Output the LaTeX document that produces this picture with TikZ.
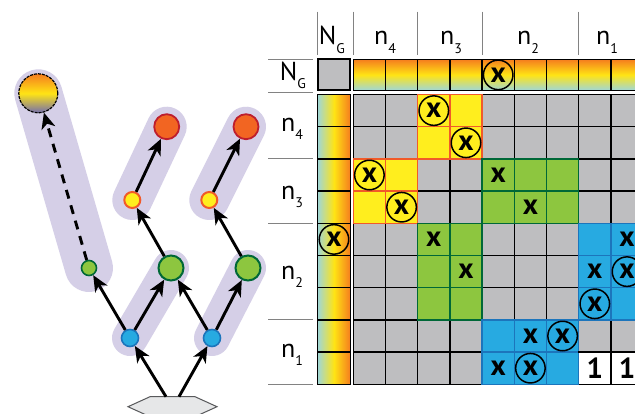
\documentclass[tikz,border=0pt]{standalone}
\usepackage{fontspec}
\setmainfont{PT Sans}
\usetikzlibrary{arrows.meta}
\definecolor{lav}{RGB}{213,207,231}
\definecolor{cellgray}{RGB}{190,190,192}
\definecolor{yel}{RGB}{255,238,30}
\definecolor{yelb}{RGB}{241,90,41}
\definecolor{grn}{RGB}{141,198,63}
\definecolor{grnb}{RGB}{0,104,55}
\definecolor{blu}{RGB}{39,170,225}
\definecolor{blub}{RGB}{28,117,188}
\definecolor{orng}{RGB}{242,101,34}
\definecolor{redb}{RGB}{190,30,45}
\definecolor{gorange}{RGB}{245,125,30}
\definecolor{gyellow}{RGB}{255,228,20}
\definecolor{gteal}{RGB}{160,215,215}
\definecolor{gpurple}{RGB}{115,110,175}
\definecolor{sepgray}{RGB}{130,130,130}
\definecolor{hexfill}{RGB}{230,231,232}
\definecolor{hexline}{RGB}{88,89,91}
\newcommand\subl[1]{\raisebox{-8.5pt}{\fontsize{14}{14}\selectfont #1}}
\newcommand\blockgrid[5]{%
  \foreach \i in {#1,...,#3} {\draw[#5] (\i,#2) -- (\i,#4);}%
  \foreach \j in {#2,...,#4} {\draw[#5] (#1,\j) -- (#3,\j);}%
}
\tikzset{
  dot/.style={circle, inner sep=0pt, line width=1.6pt},
  bluenode/.style={dot, minimum size=17pt, fill=blu, draw=blub},
  greensmall/.style={dot, minimum size=15pt, fill=grn, draw=grnb},
  greenbig/.style={dot, minimum size=25pt, fill=grn, draw=grnb, line width=2pt},
  yelnode/.style={dot, minimum size=16pt, fill=yel, draw=yelb, line width=2pt},
  rednode/.style={dot, minimum size=25pt, fill=orng, draw=redb, line width=1.8pt},
  gradnode/.style={dot, minimum size=39pt, top color=gorange, bottom color=gpurple, middle color=gyellow, draw=black, line width=1.2pt, dash pattern=on 3pt off 1pt},
  capsule/.style={line cap=round, draw=lav},
  arr/.style={-{Stealth[length=16pt,width=14pt,inset=4.5pt]}, line width=2.9pt, black},
  lab/.style={font=\fontsize{26}{26}\selectfont, inner sep=0pt, anchor=base},
  sep/.style={draw=sepgray, line width=1.1pt},
  xm/.style={font=\fontsize{29}{29}\selectfont\bfseries, inner sep=0pt},
  xc/.style={xm, circle, draw=black, line width=1.5pt, minimum size=29.5pt},
  gline/.style={line width=1.5pt, line cap=rect},
}
\begin{document}
\begin{tikzpicture}[x=1pt,y=-1pt]
\clip (0,0) rectangle (635,413);
\fill[white] (0,0) rectangle (635,413);

% ---------- tree ----------
\coordinate (pG) at (38.3,93.3);
\coordinate (pgs) at (89,268);
\coordinate (pg1) at (171,268);
\coordinate (pg2) at (248,268);
\coordinate (pb1) at (130,338);
\coordinate (pb2) at (212,338);
\coordinate (py1) at (132.3,200);
\coordinate (py2) at (209.3,200);
\coordinate (pr1) at (166.7,126.7);
\coordinate (pr2) at (246,126.7);

\draw[capsule, line width=48pt] (pG) -- (pgs);
\draw[capsule, line width=36pt] (pb1) -- (pg1);
\draw[capsule, line width=36pt] (pb2) -- (pg2);
\draw[capsule, line width=40pt] (py1) -- (pr1);
\draw[capsule, line width=40pt] (py2) -- (pr2);

\draw[fill=hexfill, draw=hexline, line width=1pt] (128,406.7) -- (150,396.7) -- (195,396.7) -- (217,406.7) -- (195,416.7) -- (150,416.7) -- cycle;
\coordinate (hexL) at (166,396.7);
\coordinate (hexR) at (179,396.7);

\node[gradnode] (gN) at (pG) {};
\node[greensmall] (gs) at (pgs) {};
\node[greenbig] (g1) at (pg1) {};
\node[greenbig] (g2) at (pg2) {};
\node[bluenode] (b1) at (pb1) {};
\node[bluenode] (b2) at (pb2) {};
\node[yelnode] (y1) at (py1) {};
\node[yelnode] (y2) at (py2) {};
\node[rednode] (r1) at (pr1) {};
\node[rednode] (r2) at (pr2) {};

\draw[arr] (hexL) -- (b1);
\draw[arr] (hexR) -- (b2);
\draw[arr] (b1) -- (gs);
\draw[arr] (b1) -- (g1);
\draw[arr] (b2) -- (g1);
\draw[arr] (b2) -- (g2);
\draw[arr] (g1) -- (y1);
\draw[arr] (g2) -- (y2);
\draw[arr] (y1) -- (r1);
\draw[arr] (y2) -- (r2);
\draw[arr, dash pattern=on 9pt off 7pt] (gs) -- (gN);

% ---------- separators and labels ----------
\foreach \xx in {317.7,353.3,417.7,482.1,578.7} {\draw[sep] (\xx,11.7) -- (\xx,55);}
\foreach \yy in {59.3,92.5,158.9,223.3,319.9,384.3} {\draw[sep] (268,\yy) -- (313,\yy);}

\node[lab] (hNG) at (332,44.5) {N\subl{G}};
\node[lab] (h4) at (385,44.5) {n\subl{4}};
\node[lab] (h3) at (451,44.5) {n\subl{3}};
\node[lab] (h2) at (528,44.5) {n\subl{2}};
\node[lab] (h1) at (607,44.5) {n\subl{1}};
\node[lab] (vNG) at (293,80) {N\subl{G}};
\node[lab] (v4) at (292,131) {n\subl{4}};
\node[lab] (v3) at (292,199) {n\subl{3}};
\node[lab] (v2) at (292,279) {n\subl{2}};
\node[lab] (v1) at (292,357) {n\subl{1}};

% ---------- matrix ----------
\begin{scope}[shift={(353.3,94.5)}, x=32.2pt, y=-32.2pt]
  % NG row
  \shade[top color=gorange, bottom color=gteal, middle color=gyellow] (0,-1.093) rectangle (9,-0.13);
  \foreach \i in {0,...,9} {\draw[gline] (\i,-1.093) -- (\i,-0.13);}
  \draw[gline] (0,-1.093) -- (9,-1.093);
  \draw[gline] (0,-0.13) -- (9,-0.13);
  % NG column
  \shade[left color=gteal, right color=gorange, middle color=gyellow] (-1.106,0) rectangle (-0.093,9);
  \foreach \j in {0,...,9} {\draw[gline] (-1.106,\j) -- (-0.093,\j);}
  \draw[gline] (-1.106,0) -- (-1.106,9);
  \draw[gline] (-0.093,0) -- (-0.093,9);
  % NG-NG cell
  \draw[fill=cellgray, line width=2pt] (-1.106,-1.093) rectangle (-0.093,-0.13);
  % main grid
  \fill[cellgray] (0,0) rectangle (9,9);
  \fill[yel] (2,0) rectangle (4,2);
  \fill[yel] (0,2) rectangle (2,4);
  \fill[grn] (4,2) rectangle (7,4);
  \fill[grn] (2,4) rectangle (4,7);
  \fill[blu] (7,4) rectangle (9,7);
  \fill[blu] (4,7) rectangle (7,9);
  \fill[white] (7,8) rectangle (9,9);
  \blockgrid{0}{0}{9}{9}{gline, black}
  \blockgrid{2}{0}{4}{2}{gline, yelb}
  \blockgrid{0}{2}{2}{4}{gline, yelb}
  \blockgrid{4}{2}{7}{4}{gline, grnb}
  \blockgrid{2}{4}{4}{7}{gline, grnb}
  \blockgrid{7}{4}{9}{7}{gline, blub}
  \blockgrid{4}{7}{7}{9}{gline, blub}
  \draw[gline, black] (7,8) -- (9,8);
  % marks
  \node[xc] (m0) at (4.5,-0.61) {x};
  \node[xc] (m1) at (-0.6,4.5) {x};
  \node[xc] (m2) at (2.5,0.5) {x};
  \node[xc] (m3) at (3.5,1.5) {x};
  \node[xc] (m4) at (0.5,2.5) {x};
  \node[xc] (m5) at (1.5,3.5) {x};
  \node[xm] (m6) at (4.5,2.5) {x};
  \node[xm] (m7) at (5.5,3.5) {x};
  \node[xm] (m8) at (2.5,4.5) {x};
  \node[xm] (m9) at (3.5,5.5) {x};
  \node[xm] (m10) at (8.5,4.5) {x};
  \node[xm] (m11) at (7.5,5.5) {x};
  \node[xc] (m12) at (8.5,5.5) {x};
  \node[xc] (m13) at (7.5,6.5) {x};
  \node[xm] (m14) at (5.5,7.5) {x};
  \node[xc] (m15) at (6.5,7.5) {x};
  \node[xm] (m16) at (4.5,8.5) {x};
  \node[xc] (m17) at (5.5,8.5) {x};
  \node[xm] (o1) at (7.5,8.5) {1};
  \node[xm] (o2) at (8.5,8.5) {1};
\end{scope}
\end{tikzpicture}
\end{document}
